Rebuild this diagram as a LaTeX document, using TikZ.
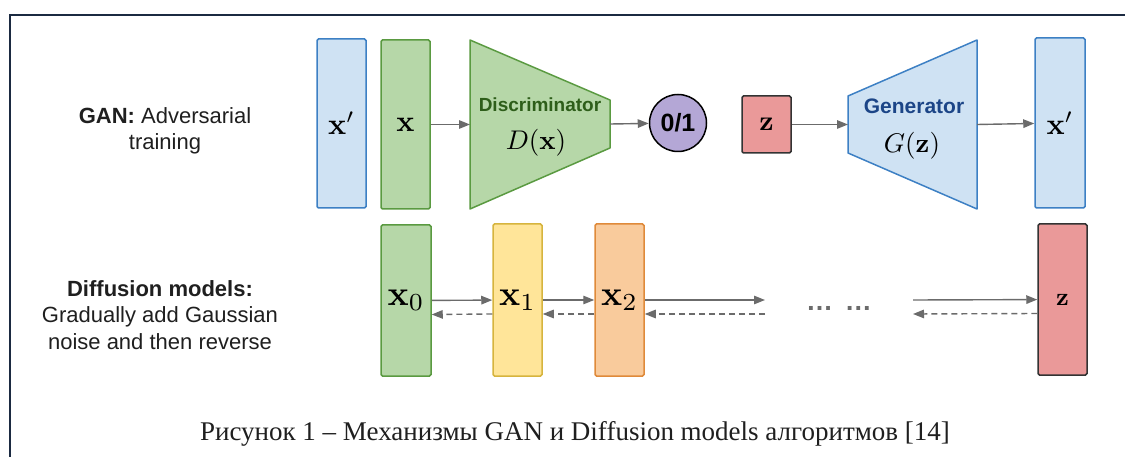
\documentclass[tikz,border=0pt]{standalone}
\usepackage[no-math]{fontspec}
\setmainfont{Liberation Serif}
\setsansfont{Liberation Sans}
\usetikzlibrary{arrows.meta}
\newcommand{\mscale}[2]{\scalebox{#1}{\normalsize$#2$}}
\definecolor{bluef}{HTML}{CFE2F3}
\definecolor{blued}{HTML}{3D80C4}
\definecolor{greenf}{HTML}{B6D7A8}
\definecolor{greend}{HTML}{5A9A41}
\definecolor{yellf}{HTML}{FFE599}
\definecolor{yelld}{HTML}{D6B43E}
\definecolor{oranf}{HTML}{F9CB9C}
\definecolor{orand}{HTML}{DF8A3A}
\definecolor{redf}{HTML}{EA9999}
\definecolor{redd}{HTML}{333333}
\definecolor{purpf}{HTML}{B4A7D6}
\definecolor{arrowc}{HTML}{6B6B6B}
\definecolor{framec}{HTML}{1B2A41}
\definecolor{disctext}{HTML}{2E5E1A}
\definecolor{gentext}{HTML}{1C4587}
\tikzset{
  box/.style={draw, line width=1.5pt, rounded corners=1.5pt, inner sep=0pt, minimum width=49pt},
  bluebox/.style={box, fill=bluef, draw=blued},
  greenbox/.style={box, fill=greenf, draw=greend},
  yellbox/.style={box, fill=yellf, draw=yelld},
  oranbox/.style={box, fill=oranf, draw=orand},
  redbox/.style={box, fill=redf, draw=redd},
  conn/.style={draw=arrowc, line width=1.4pt, -{Triangle[length=11pt,width=8.5pt]}},
  back/.style={conn, dash pattern=on 6pt off 4pt},
  side/.style={font=\sffamily\fontsize{22}{26.5}\selectfont, align=center, text=black!88},
}
\begin{document}
\begin{tikzpicture}[x=1pt,y=-1pt]
\useasboundingbox (0,0) rectangle (1125,457);
% frame
\draw[framec, line width=2.5pt] (1125,15) -- (10,15) -- (10,457);
% side labels
\node[side] (ganlab) at (165,131) {\textbf{GAN:} Adversarial\\training};
\node[side] (difflab) at (160,315) {\textbf{Diffusion models:}\\Gradually add Gaussian\\noise and then reverse};
% GAN row
\node[bluebox, minimum height=169pt] (xp1) at (341.5,123.5) {\mscale{3.0}{\mathbf{x}'}};
\node[greenbox, minimum height=169pt] (xg) at (405.5,124.5) {\mscale{3.0}{\mathbf{x}}};
\draw[fill=greenf, draw=greend, line width=1.5pt, line join=round] (470,40) -- (610,100) -- (610,148) -- (470,209) -- cycle;
\coordinate (dl) at (470,124.5);
\coordinate (dr) at (610,124);
\node[font=\sffamily\bfseries\fontsize{19}{22}\selectfont, text=disctext] (dname) at (540,105) {Discriminator};
\node (dfun) at (536,143) {\mscale{2.7}{D(\mathbf{x})}};
\node[circle, draw=black, line width=1.5pt, fill=purpf, minimum size=57pt, inner sep=0pt, font=\sffamily\bfseries\fontsize{25}{28}\selectfont] (out) at (678,123) {0/1};
\node[redbox, minimum height=57pt] (zg) at (766.5,124.5) {\mscale{2.8}{\mathbf{z}}};
\draw[fill=bluef, draw=blued, line width=1.5pt, line join=round] (848,96) -- (977,40) -- (977,209) -- (848,153) -- cycle;
\coordinate (gl) at (848,124.5);
\coordinate (gr) at (977,124.5);
\node[font=\sffamily\bfseries\fontsize{21}{24}\selectfont, text=gentext] (gname) at (914,106) {Generator};
\node (gfun) at (912,146) {\mscale{2.7}{G(\mathbf{z})}};
\node[bluebox, minimum height=170pt, minimum width=50pt] (xp2) at (1060,123) {\mscale{3.0}{\mathbf{x}'}};
\draw[conn] (xg) -- (dl);
\draw[conn] (dr) -- (out);
\draw[conn] (zg) -- (gl);
\draw[conn] (gr) -- (xp2);
% Diffusion row
\node[greenbox, minimum height=151pt, minimum width=50pt] (x0) at (406,300.5) {\mscale{3.5}{\mathbf{x}_0}};
\node[yellbox, minimum height=152pt] (x1) at (517.5,300) {\mscale{3.5}{\mathbf{x}_1}};
\node[oranbox, minimum height=152pt] (x2) at (619.5,300) {\mscale{3.5}{\mathbf{x}_2}};
\node[redbox, minimum height=151pt] (zd) at (1062.5,299.5) {\mscale{2.5}{\mathbf{z}}};
\coordinate (fa) at (765,300);
\coordinate (fb) at (913,300);
\coordinate (ba) at (765,314);
\coordinate (bb) at (913,314);
\node[font=\sffamily\bfseries\fontsize{27}{30}\selectfont, text=arrowc, inner sep=0pt] (dots) at (839,308) {\ldots\hspace{12pt}\ldots};
\draw[conn] (x0) -- (x1);
\draw[conn] (x1) -- (x2);
\draw[conn] (x2) -- (fa);
\draw[conn] (fb) -- (zd);
\draw[back] ([yshift=-14pt]x1.west) -- ([yshift=-14pt]x0.east);
\draw[back] ([yshift=-14pt]x2.west) -- ([yshift=-14pt]x1.east);
\draw[back] (ba) -- ([yshift=-14pt]x2.east);
\draw[back] ([yshift=-14pt]zd.west) -- (bb);
% caption
\node[font=\fontsize{27}{30}\selectfont, text=black!88] (cap) at (575,434) {Рисунок 1 – Механизмы GAN и Diffusion models алгоритмов [14]};
\end{tikzpicture}
\end{document}
